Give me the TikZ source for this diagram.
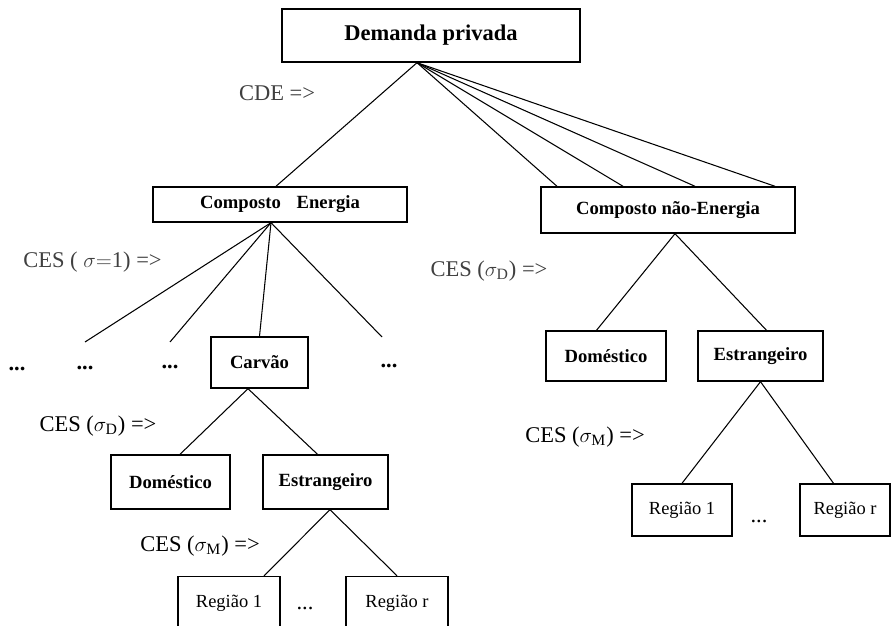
\documentclass[tikz,border=0pt]{standalone}
\usepackage{fontspec}
\setmainfont{Liberation Serif}
\tikzset{
	caixa/.style={draw, line width=0.8pt, inner sep=0pt, font=\fontsize{10.6}{12}\selectfont\bfseries},
	regiao/.style={draw, line width=0.8pt, inner sep=0pt, minimum height=1.06cm, font=\fontsize{10.5}{12}\selectfont},
	rotulo/.style={font=\fontsize{12.8}{14}\selectfont},
	pontos/.style={inner sep=0pt, font=\fontsize{12.8}{14}\selectfont\bfseries},
}
\begin{document}
\begin{tikzpicture}[line width=0.6pt]
		\useasboundingbox (0,0) rectangle (17.82,12.5);
		% caixas
		\node[caixa, minimum width=5.96cm, minimum height=1.06cm, font=\fontsize{12.8}{14}\selectfont\bfseries] (demanda) at (8.62,11.79) {Demanda privada};
		\node[caixa, minimum width=5.08cm, minimum height=0.70cm] (energia) at (5.60,8.41) {Composto\hspace{0.85em}Energia};
		\node[caixa, minimum width=5.08cm, minimum height=0.92cm] (naoenergia) at (13.36,8.30) {Composto não-Energia};
		\node[caixa, minimum width=1.94cm, minimum height=1.02cm] (carvao) at (5.19,5.25) {Carvão};
		\node[caixa, minimum width=2.38cm, minimum height=1.08cm] (dom1) at (3.41,2.86) {Doméstico};
		\node[caixa, minimum width=2.50cm, minimum height=1.08cm] (est1) at (6.51,2.86) {Estrangeiro};
		\node[caixa, minimum width=2.40cm, minimum height=1.00cm] (dom2) at (12.12,5.38) {Doméstico};
		\node[caixa, minimum width=2.50cm, minimum height=1.00cm] (est2) at (15.21,5.38) {Estrangeiro};
		\node[regiao, minimum width=2.04cm] (reg1a) at (4.58,0.44) {Região 1};
		\node[regiao, minimum width=2.04cm] (regra) at (7.94,0.44) {Região r};
		\node[regiao, minimum width=2.00cm, minimum height=1.04cm] (reg1b) at (13.64,2.30) {Região 1};
		\node[regiao, minimum width=1.80cm, minimum height=1.04cm] (regrb) at (16.90,2.30) {Região r};
		% reticencias
		\foreach \x/\y [count=\i] in {0.34/5.12, 1.70/5.14, 3.40/5.16, 7.78/5.18}
			\node[pontos] (p\i) at (\x,\y) {...};
		\node[rotulo, inner sep=0pt] (p5) at (6.10,0.34) {...};
		\node[rotulo, inner sep=0pt] (p6) at (15.18,2.07) {...};
		% rotulos
		\node[rotulo, black!75] (cde) at (5.54,10.64) {CDE =>};
		\node[rotulo, black!75] (ces1) at (1.85,7.26) {CES ( $\sigma{=}$1) =>};
		\node[rotulo, black!75] (ces2) at (9.78,7.08) {CES ($\sigma_{\mathrm{D}}$) =>};
		\node[rotulo] (ces3) at (1.96,3.98) {CES ($\sigma_{\mathrm{D}}$) =>};
		\node[rotulo] (ces4) at (4.00,1.58) {CES ($\sigma_{\mathrm{M}}$) =>};
		\node[rotulo] (ces5) at (11.70,3.76) {CES ($\sigma_{\mathrm{M}}$) =>};
		% ligacoes
		\draw ([xshift=-0.28cm]demanda.south) -- ([xshift=-0.08cm]energia.north);
		\foreach \dx in {-2.22,-0.90,0.54,2.14}
			\draw ([xshift=-0.28cm]demanda.south) -- ([xshift=\dx cm]naoenergia.north);
		\draw ([xshift=-0.18cm]energia.south) -- (carvao.north);
		\foreach \i/\dx/\dy in {2/0/0.52, 3/0/0.50, 4/-0.14/0.58}
			\draw ([xshift=-0.18cm]energia.south) -- ([xshift=\dx cm, yshift=\dy cm]p\i.center);
		\draw ([xshift=-0.23cm]carvao.south) -- ([xshift=0.19cm]dom1.north);
		\draw ([xshift=-0.23cm]carvao.south) -- ([xshift=-0.16cm]est1.north);
		\draw ([xshift=0.09cm]est1.south) -- ([xshift=0.70cm]reg1a.north);
		\draw ([xshift=0.09cm]est1.south) -- (regra.north);
		\draw ([xshift=0.14cm]naoenergia.south) -- ([xshift=-0.19cm]dom2.north);
		\draw ([xshift=0.14cm]naoenergia.south) -- ([xshift=0.12cm]est2.north);
		\draw (est2.south) -- (reg1b.north);
		\draw (est2.south) -- ([xshift=-0.23cm]regrb.north);
\end{tikzpicture}
\end{document}
